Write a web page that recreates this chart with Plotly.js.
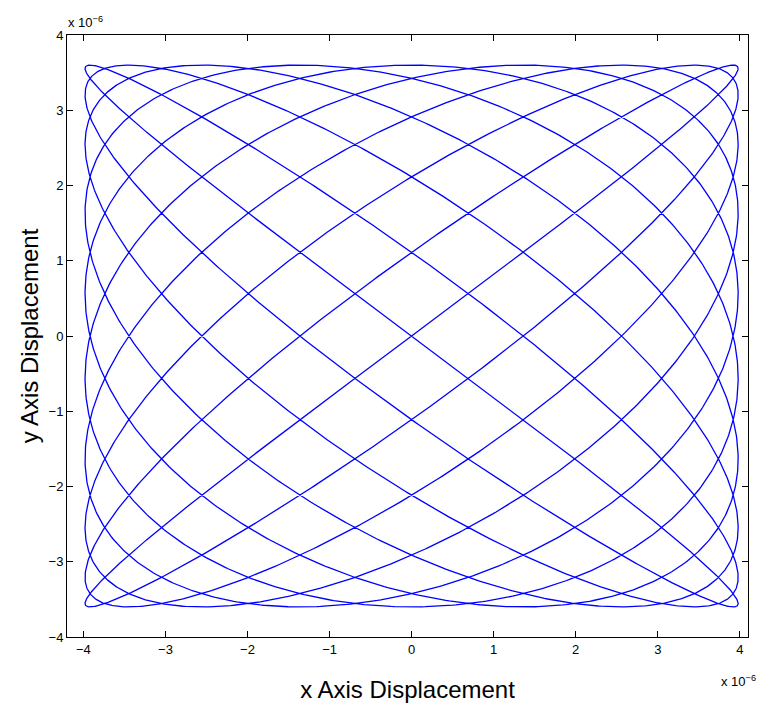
<!DOCTYPE html>
<html>
<head>
<meta charset="utf-8">
<script src="https://cdn.plot.ly/plotly-3.0.1.min.js"></script>
<style>
  html, body { margin: 0; padding: 0; background: #fff; }
  #plot { width: 757px; height: 709px; }
</style>
</head>
<body>
<div id="plot"></div>
<script>
// Oscillator parameters (displacements in units of 1e-6)
const xAmplitude = [3.98];
const yAmplitude = [3.6];
const xFrequency = [10];
const yFrequency = [9];
const sampleCount = [6000];

// Axis ticks
const xTickValues = [-4, -3, -2, -1, 0, 1, 2, 3, 4];
const xTickLabels = ['\u22124', '\u22123', '\u22122', '\u22121', '0', '1', '2', '3', '4'];
const yTickValues = [-4, -3, -2, -1, 0, 1, 2, 3, 4];
const yTickLabels = ['\u22124', '\u22123', '\u22122', '\u22121', '0', '1', '2', '3', '4'];

// Trace the x/y displacement over one full period
const xs = [], ys = [];
const n = sampleCount[0];
for (let i = 0; i <= n; i++) {
  const t = 2 * Math.PI * i / n;
  xs.push(xAmplitude[0] * Math.sin(xFrequency[0] * t));
  ys.push(yAmplitude[0] * Math.sin(yFrequency[0] * t));
}

const font = { family: 'Liberation Sans, Arial, sans-serif', color: '#000' };

const trace = {
  x: xs, y: ys, type: 'scatter', mode: 'lines',
  line: { color: 'rgb(0,0,255)', width: 1.3 },
  hoverinfo: 'skip'
};

const axisCommon = {
  showgrid: false, zeroline: false,
  showline: true, linecolor: '#000', linewidth: 1, mirror: 'ticks',
  ticks: 'inside', ticklen: 6, tickwidth: 1, tickcolor: '#000',
  tickfont: Object.assign({ size: 13 }, font),
  tickmode: 'array'
};

const layout = {
  width: 757, height: 709,
  margin: { l: 67, r: 9, t: 35, b: 72 },
  paper_bgcolor: '#fff', plot_bgcolor: '#fff',
  showlegend: false,
  xaxis: Object.assign({}, axisCommon, {
    range: [-4.2, 4.1],
    tickvals: xTickValues, ticktext: xTickLabels,
    title: { text: 'x Axis Displacement', font: Object.assign({ size: 24 }, font), standoff: 25 }
  }),
  yaxis: Object.assign({}, axisCommon, {
    range: [-4, 4],
    tickvals: yTickValues, ticktext: yTickLabels,
    title: { text: 'y Axis Displacement', font: Object.assign({ size: 24 }, font), standoff: 3 }
  }),
  annotations: [
    { text: 'x 10<sup>\u22126</sup>', xref: 'paper', yref: 'paper', x: 0, y: 1,
      xanchor: 'left', yanchor: 'bottom', xshift: -1, yshift: 3, showarrow: false,
      font: Object.assign({ size: 13 }, font) },
    { text: 'x 10<sup>\u22126</sup>', xref: 'paper', yref: 'paper', x: 1, y: 0,
      xanchor: 'right', yanchor: 'top', xshift: 10, yshift: -34, showarrow: false,
      font: Object.assign({ size: 13 }, font) }
  ]
};

Plotly.newPlot('plot', [trace], layout, { displayModeBar: false, staticPlot: true });
</script>
</body>
</html>
